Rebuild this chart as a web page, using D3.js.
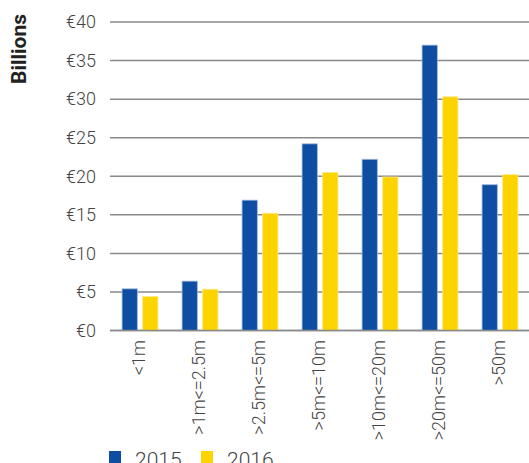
<!DOCTYPE html>
<html>
<head>
<meta charset="utf-8">
<script src="https://cdn.jsdelivr.net/npm/d3@7.9.0/dist/d3.min.js"></script>
<style>
  body { margin: 0; background: #fff; }
  svg { display: block; font-family: Roboto, "Liberation Sans", sans-serif; }
</style>
</head>
<body>
<svg id="chart" width="529" height="463"></svg>
<script>
const categories = ['<1m', '>1m<=2.5m', '>2.5m<=5m', '>5m<=10m', '>10m<=20m', '>20m<=50m', '>50m'];
const series = ['2015', '2016'];
const values2015 = [5.4, 6.4, 16.9, 24.2, 22.2, 37.0, 18.9];
const values2016 = [4.4, 5.35, 15.2, 20.5, 19.9, 30.3, 20.2];
const yTicks = [0, 5, 10, 15, 20, 25, 30, 35, 40];
const colors = ['#0d4ea3', '#fdd300'];

const svg = d3.select('#chart');

const x = d3.scaleBand().domain(categories).range([110, 530]).paddingInner(0).paddingOuter(0);
const y = d3.scaleLinear().domain([0, 40]).range([330.5, 22]);
const sub = d3.scaleBand().domain(series).range([10, 50]).paddingInner(0.26).paddingOuter(0.1);

// grid lines
svg.append('g')
    .selectAll('line')
    .data(yTicks)
    .join('line')
    .attr('x1', 110)
    .attr('x2', 529)
    .attr('y1', d => y(d))
    .attr('y2', d => y(d))
    .attr('stroke', '#8a8a8a')
    .attr('stroke-width', 1.5);

// y tick labels
svg.append('g')
    .selectAll('text')
    .data(yTicks)
    .join('text')
    .attr('x', 96)
    .attr('y', d => y(d))
    .attr('dy', '0.35em')
    .attr('text-anchor', 'end')
    .attr('font-size', 18)
    .attr('font-weight', 300)
    .attr('fill', '#444')
    .text(d => `€${d}`);

// axis title
svg.append('text')
    .attr('transform', 'translate(26,49) rotate(-90)')
    .attr('text-anchor', 'middle')
    .attr('font-size', 21)
    .attr('font-weight', 700)
    .attr('fill', '#222')
    .text('Billions');

// bars
const allValues = [values2015, values2016];
const groups = svg.append('g')
    .selectAll('g')
    .data(categories)
    .join('g')
    .attr('transform', d => `translate(${x(d)},0)`);

groups.selectAll('rect')
    .data((d, i) => series.map((s, j) => ({ s, j, v: allValues[j][i] })))
    .join('rect')
    .attr('x', d => sub(d.s))
    .attr('width', sub.bandwidth())
    .attr('y', d => y(d.v))
    .attr('height', d => y(0) - y(d.v))
    .attr('fill', d => colors[d.j])
    .attr('stroke', d => d.j === 0 ? '#9fb6d8' : '#fde98a')
    .attr('stroke-width', 0.8);

// baseline
svg.append('line')
    .attr('x1', 110)
    .attr('x2', 529)
    .attr('y1', y(0))
    .attr('y2', y(0))
    .attr('stroke', '#8a8a8a')
    .attr('stroke-width', 1.5);

// x labels
svg.append('g')
    .selectAll('text')
    .data(categories)
    .join('text')
    .attr('transform', d => `translate(${x(d) + x.bandwidth() / 2 - 1},340) rotate(-90)`)
    .attr('dy', '0.35em')
    .attr('text-anchor', 'end')
    .attr('font-size', 18)
    .attr('font-weight', 300)
    .attr('fill', '#444')
    .text(d => d);

// legend
const legend = svg.append('g');
const legendX = [109, 201];
series.forEach((s, i) => {
    legend.append('rect')
        .attr('x', legendX[i])
        .attr('y', 451)
        .attr('width', 12)
        .attr('height', 12)
        .attr('fill', colors[i]);
    legend.append('text')
        .attr('x', legendX[i] + 26)
        .attr('y', 467)
        .attr('font-size', 21)
        .attr('font-weight', 300)
        .attr('fill', '#444')
        .text(s);
});
</script>
</body>
</html>
